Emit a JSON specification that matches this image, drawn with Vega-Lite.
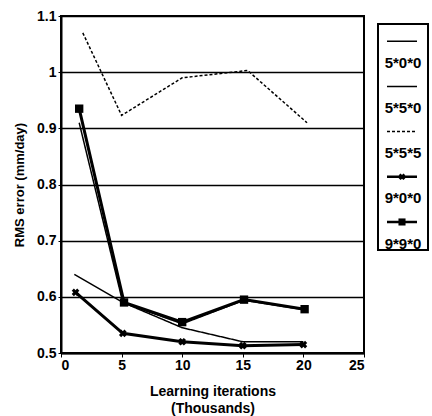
{
  "$schema": "https://vega.github.io/schema/vega-lite/v6.json",
  "padding": {"left": 12, "top": 8, "right": 0, "bottom": 0},
  "background": "white",
  "config": {
    "font": "Liberation Sans",
    "view": {"stroke": "black", "strokeWidth": 2},
    "concat": {"spacing": 11},
    "axis": {"labelColor": "black", "titleColor": "black", "tickColor": "black", "domainColor": "black", "labelFontWeight": "bold", "labelFontSize": 14, "titleFontSize": 14, "titleFontWeight": "bold"}
  },
  "datasets": {
    "d": [
      {"series": "5*0*0", "iter": 1.1, "rms": 0.64},
      {"series": "5*0*0", "iter": 5.1, "rms": 0.59},
      {"series": "5*0*0", "iter": 10, "rms": 0.545},
      {"series": "5*0*0", "iter": 15, "rms": 0.52},
      {"series": "5*0*0", "iter": 20, "rms": 0.52},
      {"series": "5*5*0", "iter": 1.5, "rms": 0.91},
      {"series": "5*5*0", "iter": 5.1, "rms": 0.59},
      {"series": "5*5*0", "iter": 10, "rms": 0.552},
      {"series": "5*5*0", "iter": 15.1, "rms": 0.594},
      {"series": "5*5*0", "iter": 20.1, "rms": 0.577},
      {"series": "5*5*5", "iter": 1.8, "rms": 1.07},
      {"series": "5*5*5", "iter": 5, "rms": 0.923},
      {"series": "5*5*5", "iter": 10, "rms": 0.99},
      {"series": "5*5*5", "iter": 15.4, "rms": 1.003},
      {"series": "5*5*5", "iter": 20.3, "rms": 0.91},
      {"series": "9*0*0", "iter": 1.2, "rms": 0.608},
      {"series": "9*0*0", "iter": 5.1, "rms": 0.535},
      {"series": "9*0*0", "iter": 10, "rms": 0.52},
      {"series": "9*0*0", "iter": 15, "rms": 0.513},
      {"series": "9*0*0", "iter": 20, "rms": 0.515},
      {"series": "9*9*0", "iter": 1.5, "rms": 0.935},
      {"series": "9*9*0", "iter": 5.2, "rms": 0.59},
      {"series": "9*9*0", "iter": 10, "rms": 0.555},
      {"series": "9*9*0", "iter": 15.1, "rms": 0.595},
      {"series": "9*9*0", "iter": 20.1, "rms": 0.578}
    ],
    "leg": [
      {"series": "5*0*0"},
      {"series": "5*5*0"},
      {"series": "5*5*5"},
      {"series": "9*0*0"},
      {"series": "9*9*0"}
    ]
  },
  "hconcat": [
    {
      "width": 303,
      "height": 337,
      "data": {"name": "d"},
      "encoding": {
        "x": {"field": "iter", "type": "quantitative", "scale": {"domain": [0, 25], "nice": false},
          "axis": {"values": [0, 5, 10, 15, 20, 25], "grid": false, "tickSize": 4, "domainWidth": 2, "labelPadding": 1, "titlePadding": 12, "titleLineHeight": 17},
          "title": ["Learning iterations", "(Thousands)"]},
        "y": {"field": "rms", "type": "quantitative", "scale": {"domain": [0.5, 1.1], "nice": false, "zero": false},
          "axis": {"values": [0.5, 0.6, 0.7, 0.8, 0.9, 1.0, 1.1], "format": ".1~f", "grid": true, "gridColor": "black", "gridWidth": 1.5, "gridOpacity": 1, "tickSize": 3, "domainWidth": 2, "labelPadding": 2, "titlePadding": 10, "titleFontSize": 13},
          "title": "RMS error (mm/day)"}
      },
      "layer": [
        {
          "transform": [{"filter": {"field": "series", "oneOf": ["5*0*0", "5*5*0", "5*5*5"]}}],
          "mark": {"type": "line", "color": "black", "strokeWidth": 1.5},
          "encoding": {
            "detail": {"field": "series"},
            "strokeDash": {"field": "series", "type": "nominal", "scale": {"domain": ["5*0*0", "5*5*0", "5*5*5"], "range": [[1, 0], [1, 0], [3, 2]]}, "legend": null}
          }
        },
        {
          "transform": [{"filter": {"field": "series", "oneOf": ["9*0*0", "9*9*0"]}}],
          "mark": {"type": "line", "color": "black", "strokeWidth": 3},
          "encoding": {"detail": {"field": "series"}}
        },
        {
          "transform": [{"filter": {"field": "series", "equal": "9*9*0"}}],
          "mark": {"type": "point", "shape": "square", "filled": true, "color": "black", "size": 70, "opacity": 1}
        },
        {
          "transform": [{"filter": {"field": "series", "equal": "9*0*0"}}],
          "mark": {"type": "point", "shape": "cross", "angle": 45, "filled": true, "color": "black", "size": 60, "opacity": 1}
        }
      ]
    },
    {
      "spacing": 0,
      "vconcat": [
        {
          "width": 50,
          "height": 7,
          "view": {"stroke": null},
          "data": {"values": [{"series": ""}]},
          "mark": {"type": "point", "opacity": 0, "size": 1},
          "encoding": {}
        },
        {
          "width": 50,
          "height": 226,
          "data": {"name": "leg"},
          "encoding": {
            "y": {"field": "series", "type": "nominal", "sort": null, "scale": {"type": "band", "paddingInner": 0, "paddingOuter": 0}, "axis": null}
          },
          "layer": [
            {
              "mark": {"type": "rule", "color": "black"},
              "encoding": {
                "x": {"datum": 0.18, "type": "quantitative", "scale": {"domain": [0, 1]}, "axis": null},
                "x2": {"datum": 0.78},
                "y": {"field": "series", "type": "nominal", "sort": null, "bandPosition": 0.38, "axis": null},
                "strokeDash": {"field": "series", "type": "nominal", "scale": {"domain": ["5*0*0", "5*5*0", "5*5*5", "9*0*0", "9*9*0"], "range": [[1, 0], [1, 0], [3, 2], [1, 0], [1, 0]]}, "legend": null},
                "strokeWidth": {"condition": {"test": "datum.series === '9*0*0' || datum.series === '9*9*0'", "value": 2.5}, "value": 1.5}
              }
            },
            {
              "transform": [{"filter": {"field": "series", "equal": "9*9*0"}}],
              "mark": {"type": "point", "shape": "square", "filled": true, "color": "black", "size": 50, "opacity": 1},
              "encoding": {
                "x": {"datum": 0.48, "type": "quantitative"},
                "y": {"field": "series", "type": "nominal", "sort": null, "bandPosition": 0.38, "axis": null}
              }
            },
            {
              "transform": [{"filter": {"field": "series", "equal": "9*0*0"}}],
              "mark": {"type": "point", "shape": "cross", "angle": 45, "filled": true, "color": "black", "size": 45, "opacity": 1},
              "encoding": {
                "x": {"datum": 0.48, "type": "quantitative"},
                "y": {"field": "series", "type": "nominal", "sort": null, "bandPosition": 0.38, "axis": null}
              }
            },
            {
              "mark": {"type": "text", "fontSize": 15, "fontWeight": "bold", "color": "black", "align": "center", "baseline": "middle"},
              "encoding": {
                "x": {"datum": 0.5, "type": "quantitative"},
                "y": {"field": "series", "type": "nominal", "sort": null, "bandPosition": 0.86, "axis": null},
                "text": {"field": "series"}
              }
            }
          ]
        }
      ]
    }
  ]
}
